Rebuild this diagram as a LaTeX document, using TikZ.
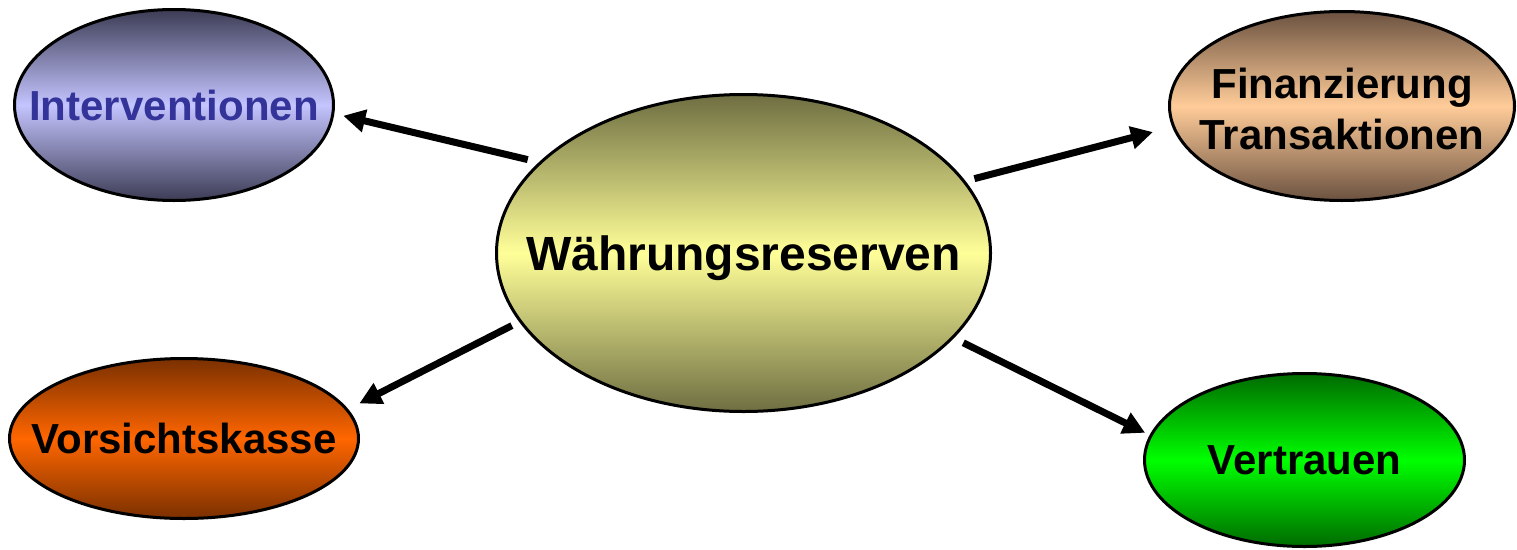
\documentclass[tikz,border=0pt]{standalone}
\usepackage{fontspec}
\setmainfont{Liberation Sans}
\usetikzlibrary{arrows.meta,shapes.geometric}
\definecolor{iEdge}{HTML}{3C3C55}
\definecolor{iMid}{HTML}{C4C4FF}
\definecolor{iText}{HTML}{333399}
\definecolor{cEdge}{HTML}{6E6E42}
\definecolor{cMid}{HTML}{FFFF99}
\definecolor{fEdge}{HTML}{6B5240}
\definecolor{fMid}{HTML}{FFCC99}
\definecolor{vEdge}{HTML}{7A3000}
\definecolor{vMid}{HTML}{FF6600}
\definecolor{tEdge}{HTML}{006A00}
\definecolor{tMid}{HTML}{00FF00}
\begin{document}
\begin{tikzpicture}[x=1pt,y=-1pt,
  blob/.style={ellipse, draw=black, line width=3pt, inner sep=0pt, outer sep=0pt,
    text depth=0pt, font=\fontsize{42}{51}\selectfont\bfseries},
  link/.style={line width=7pt, -{Triangle[length=22pt,width=22pt]}}
]
\useasboundingbox (0,0) rectangle (1517,549);
\node[blob, minimum width=494pt, minimum height=317pt,
  top color=cEdge, bottom color=cEdge, middle color=cMid,
  font=\fontsize{48}{58}\selectfont\bfseries] (c) at (743.5,253) {\makebox[0pt]{Währungsreserven}};
\node[blob, minimum width=319pt, minimum height=191pt,
  top color=iEdge, bottom color=iEdge, middle color=iMid, text=iText] (i) at (174,105) {\makebox[0pt]{Interventionen}};
\node[blob, minimum width=345pt, minimum height=189pt,
  top color=fEdge, bottom color=fEdge, middle color=fMid] (f) at (1342,106)
  {\makebox[0pt]{\begin{tabular}[b]{@{}c@{}}Finanzierung\\Transaktionen\end{tabular}}};
\node[blob, minimum width=349pt, minimum height=160pt,
  top color=vEdge, bottom color=vEdge, middle color=vMid] (v) at (184,438.5) {\makebox[0pt]{Vorsichtskasse}};
\node[blob, minimum width=320pt, minimum height=173pt,
  top color=tEdge, bottom color=tEdge, middle color=tMid] (t) at (1304.5,460) {\makebox[0pt]{Vertrauen}};
\draw[link, shorten <=13.2pt, shorten >=10.6pt] (c.156.9) -- (i.-3.4);
\draw[link, shorten <=10.9pt, shorten >=21.4pt] (c.18.5) -- (f.187.05);
\draw[link, shorten <=9.7pt, shorten >=14pt] (c.197.5) -- (v.10.67);
\draw[link, shorten <=12pt, shorten >=6.5pt] (c.-22.1) -- (t.171.1);
\end{tikzpicture}
\end{document}
